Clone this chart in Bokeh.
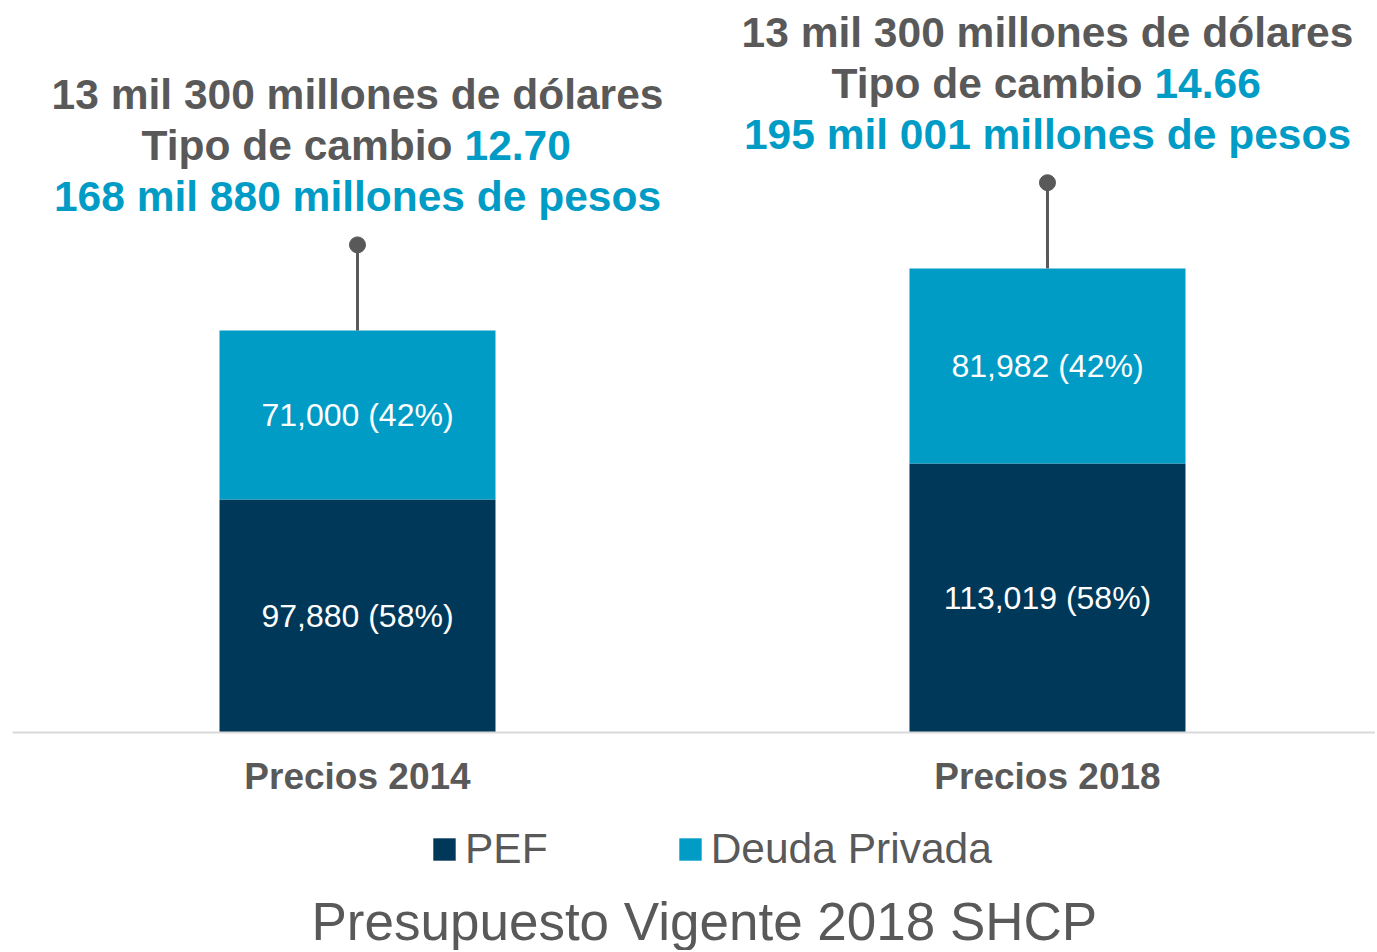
from bokeh.plotting import figure
from bokeh.models import ColumnDataSource, Range1d, FixedTicker, Title, Legend
from bokeh.core.properties import value
from bokeh.embed import file_html
from bokeh.resources import INLINE

categories = ["Precios 2014", "Precios 2018"]
pef = [97880, 113019]
deuda = [71000, 81982]
usd_lines = ["13 mil 300 millones de dólares", "13 mil 300 millones de dólares"]
fx_prefix = ["Tipo de cambio", "Tipo de cambio"]
fx_rates = ["12.70", "14.66"]
mxn_lines = ["168 mil 880 millones de pesos", "195 mil 001 millones de pesos"]

NAVY = "#00385A"
CYAN = "#009CC6"
GRAY = "#595959"
FONT = value("Liberation Sans")

x = [i + 0.5 for i in range(len(categories))]
totals = [a + b for a, b in zip(pef, deuda)]
stem = 36000
tops = [t + stem for t in totals]

src = ColumnDataSource(dict(
    x=x, PEF=pef, Deuda=deuda, total=totals, top=tops,
    pef_mid=[v / 2 for v in pef],
    deuda_mid=[a + b / 2 for a, b in zip(pef, deuda)],
    pef_lab=[f"{a:,} ({a / t * 100:.0f}%)" for a, t in zip(pef, totals)],
    deuda_lab=[f"{b:,} ({b / t * 100:.0f}%)" for b, t in zip(deuda, totals)],
    usd=usd_lines, pre=fx_prefix, fx=fx_rates, mxn=mxn_lines,
))

p = figure(width=1375, height=950, output_backend="svg", toolbar_location=None,
           x_range=Range1d(0, 1.9754), y_range=Range1d(-65966, 307563),
           y_axis_location=None, min_border_left=12, min_border_right=0,
           min_border_top=0, min_border_bottom=0, title=None)
p.outline_line_color = None
p.xgrid.visible = False
p.ygrid.visible = False
p.background_fill_color = "white"
p.border_fill_color = "white"

rs = p.vbar_stack(["PEF", "Deuda"], x="x", width=0.4, color=[NAVY, CYAN],
                  line_color=None, source=src)

p.segment(x0="x", y0="total", x1="x", y1="top", line_color=GRAY, line_width=3, source=src)
p.scatter(x="x", y="top", size=16, color=GRAY, source=src)

common = dict(text_font=FONT, text_align="center", text_baseline="middle", source=src)
p.text(x="x", y="pef_mid", text="pef_lab", text_color="white", text_font_size="32px", **common)
p.text(x="x", y="deuda_mid", text="deuda_lab", text_color="white", text_font_size="32px", **common)

bold = dict(text_font=FONT, text_font_style="bold", text_font_size="42.5px",
            text_baseline="middle", source=src)
p.text(x="x", y="top", text="mxn", text_color=CYAN, text_align="center", y_offset=-48, **bold)
p.text(x="x", y="top", text="pre", text_color=GRAY, text_align="right",
       x_offset=95, y_offset=-99, **bold)
p.text(x="x", y="top", text="fx", text_color=CYAN, text_align="left",
       x_offset=107, y_offset=-99, **bold)
p.text(x="x", y="top", text="usd", text_color=GRAY, text_align="center", y_offset=-150, **bold)

ax = p.xaxis[0]
ax.fixed_location = 0
ax.ticker = FixedTicker(ticks=x)
ax.major_label_overrides = {xi: c for xi, c in zip(x, categories)}
ax.major_tick_out = 0
ax.major_tick_in = 0
ax.minor_tick_out = 0
ax.minor_tick_in = 0
ax.axis_line_color = "#D9D9D9"
ax.axis_line_width = 2
ax.major_label_standoff = 23
ax.major_label_text_font = "Liberation Sans"
ax.major_label_text_font_style = "bold"
ax.major_label_text_font_size = "37px"
ax.major_label_text_color = GRAY

legend = Legend(items=[("PEF", [rs[0]]), ("Deuda Privada", [rs[1]])],
                orientation="horizontal", location=(418, 16),
                label_text_font="Liberation Sans", label_text_font_size="42.5px",
                label_text_color=GRAY, glyph_width=28, glyph_height=28,
                label_standoff=7, spacing=128, padding=8, margin=0,
                border_line_color=None, background_fill_alpha=0)
p.add_layout(legend, "center")

t = Title(text="Presupuesto Vigente 2018 SHCP", align="left",
          text_font="Liberation Sans", text_font_size="53px",
          text_font_style="normal", text_color=GRAY, offset=299, standoff=0)
p.add_layout(t, "below")

open("out.html", "w").write(file_html(p, INLINE))
